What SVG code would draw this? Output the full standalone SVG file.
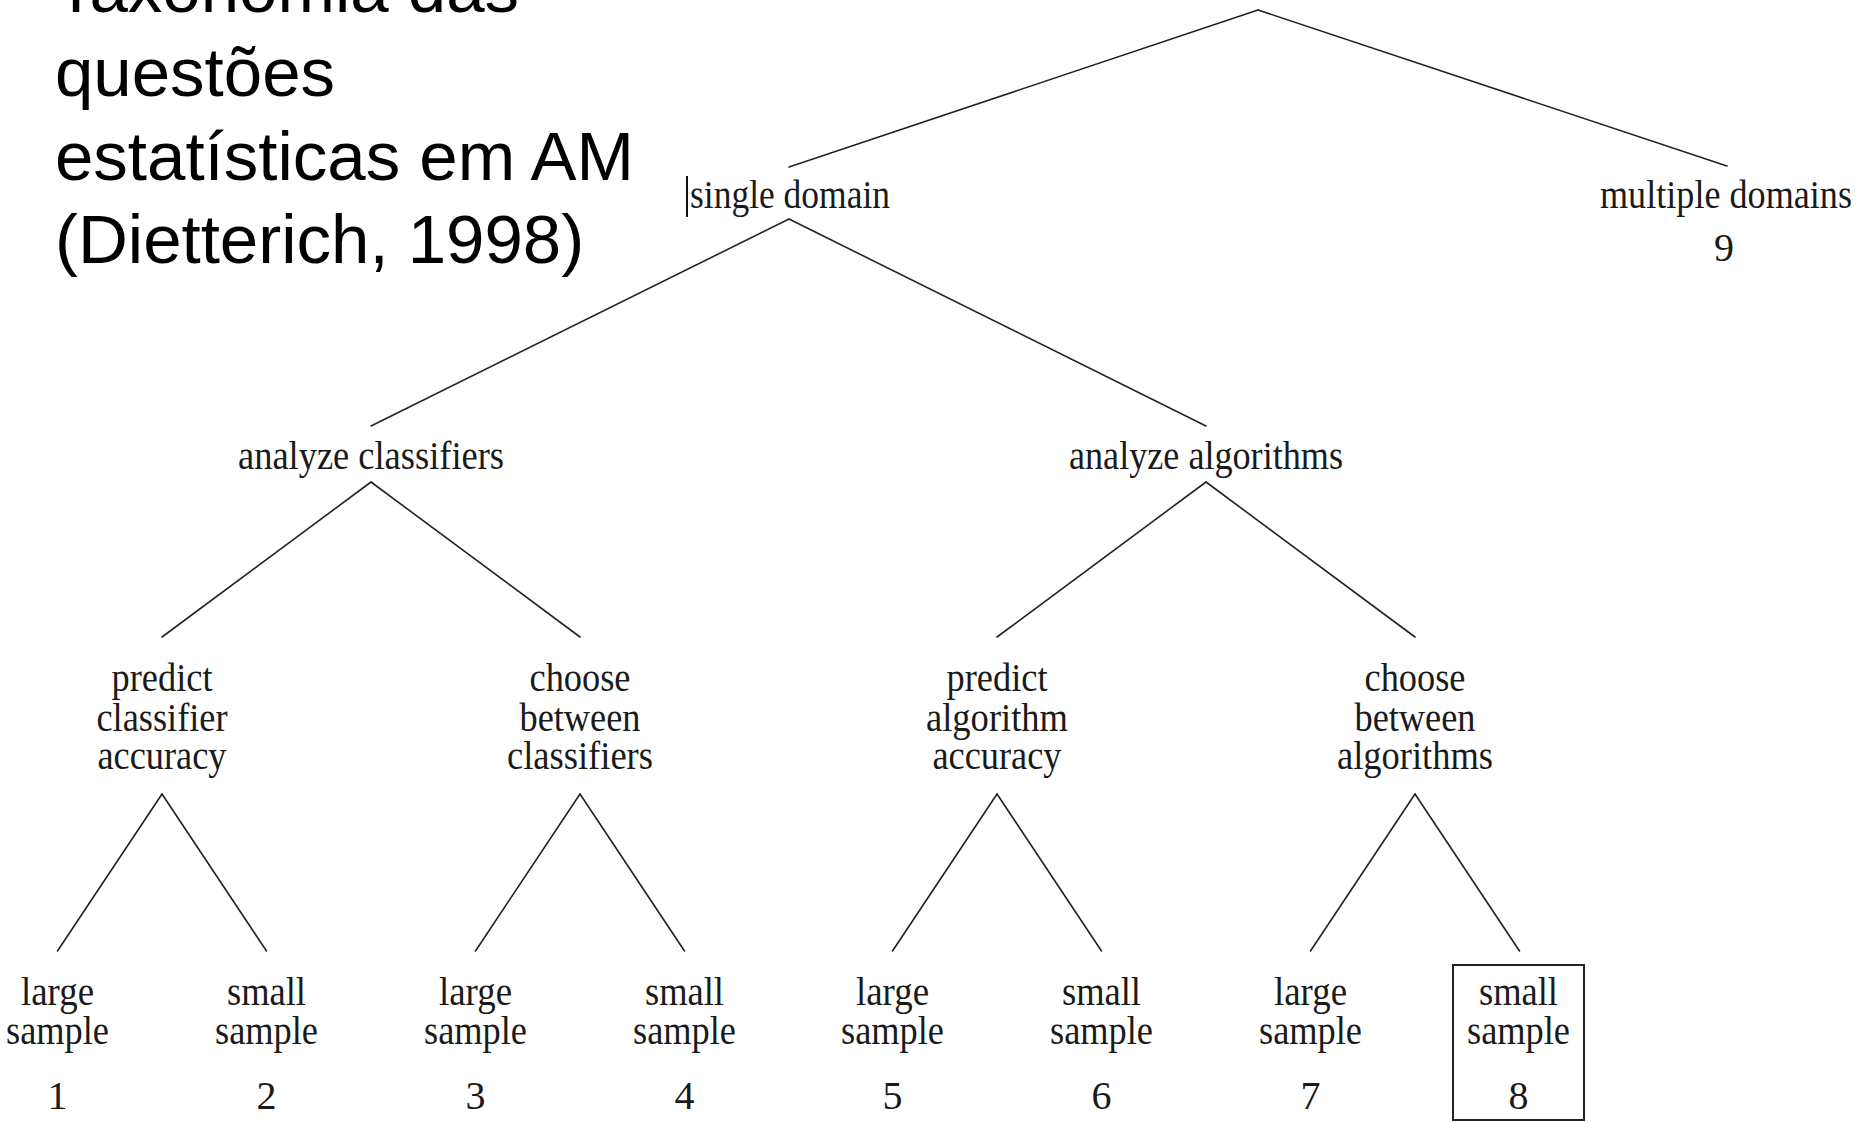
<svg xmlns="http://www.w3.org/2000/svg" width="1872" height="1122" viewBox="0 0 1872 1122">
<style>
.bg{fill:#ffffff}
.title{font-family:"Liberation Sans",Arial,sans-serif;font-size:69px;fill:#000000}
.lbl{font-family:"Liberation Serif","Times New Roman",serif;font-size:40px;fill:#1a1a1a;text-anchor:middle}
.num{font-family:"Liberation Serif","Times New Roman",serif;font-size:40px;fill:#1a1a1a;text-anchor:middle}
.edge{stroke:#222222;stroke-width:1.6;fill:none;stroke-linecap:round}
.box{stroke:#222222;stroke-width:2;fill:none}
</style>
<rect class="bg" x="0" y="0" width="1872" height="1122"/>
<g id="title">
<text class="title" x="55" y="12">Taxonomia das</text>
<text class="title" x="55" y="96">questões</text>
<text class="title" x="55" y="180">estatísticas em AM</text>
<text class="title" x="55" y="263">(Dietterich, 1998)</text>
</g>
<g id="connectors">
<line class="edge" x1="1258" y1="10" x2="789" y2="167"/>
<line class="edge" x1="1258" y1="10" x2="1727" y2="166"/>
<line class="edge" x1="789" y1="219" x2="371" y2="426"/>
<line class="edge" x1="789" y1="219" x2="1206" y2="426"/>
<line class="edge" x1="371" y1="482" x2="162" y2="637"/>
<line class="edge" x1="371" y1="482" x2="580" y2="637"/>
<line class="edge" x1="1206" y1="482" x2="997" y2="637"/>
<line class="edge" x1="1206" y1="482" x2="1415" y2="637"/>
<line class="edge" x1="162" y1="794" x2="57.5" y2="951"/>
<line class="edge" x1="162" y1="794" x2="266.5" y2="951"/>
<line class="edge" x1="580" y1="794" x2="475.5" y2="951"/>
<line class="edge" x1="580" y1="794" x2="684.5" y2="951"/>
<line class="edge" x1="997" y1="794" x2="892.5" y2="951"/>
<line class="edge" x1="997" y1="794" x2="1101.5" y2="951"/>
<line class="edge" x1="1415" y1="794" x2="1310.5" y2="951"/>
<line class="edge" x1="1415" y1="794" x2="1519.5" y2="951"/>
</g>
<g id="single-domain">
<text class="lbl" x="790" y="208" textLength="200" lengthAdjust="spacingAndGlyphs">single domain</text>
<line x1="687" y1="176" x2="687" y2="217" stroke="#111111" stroke-width="2"/>
</g>
<g id="multiple-domains">
<text class="lbl" x="1726" y="208" textLength="252" lengthAdjust="spacingAndGlyphs">multiple domains</text>
<text class="num" x="1724" y="261">9</text>
</g>
<g id="analyze-classifiers">
<text class="lbl" x="371" y="469" textLength="266" lengthAdjust="spacingAndGlyphs">analyze classifiers</text>
</g>
<g id="analyze-algorithms">
<text class="lbl" x="1206" y="469" textLength="274" lengthAdjust="spacingAndGlyphs">analyze algorithms</text>
</g>
<g id="predict-classifier-accuracy">
<text class="lbl" x="162" y="691" textLength="101" lengthAdjust="spacingAndGlyphs">predict</text>
<text class="lbl" x="162" y="731" textLength="131" lengthAdjust="spacingAndGlyphs">classifier</text>
<text class="lbl" x="162" y="769" textLength="129" lengthAdjust="spacingAndGlyphs">accuracy</text>
</g>
<g id="choose-between-classifiers">
<text class="lbl" x="580" y="691" textLength="101" lengthAdjust="spacingAndGlyphs">choose</text>
<text class="lbl" x="580" y="731" textLength="121" lengthAdjust="spacingAndGlyphs">between</text>
<text class="lbl" x="580" y="769" textLength="146" lengthAdjust="spacingAndGlyphs">classifiers</text>
</g>
<g id="predict-algorithm-accuracy">
<text class="lbl" x="997" y="691" textLength="101" lengthAdjust="spacingAndGlyphs">predict</text>
<text class="lbl" x="997" y="731" textLength="142" lengthAdjust="spacingAndGlyphs">algorithm</text>
<text class="lbl" x="997" y="769" textLength="129" lengthAdjust="spacingAndGlyphs">accuracy</text>
</g>
<g id="choose-between-algorithms">
<text class="lbl" x="1415" y="691" textLength="101" lengthAdjust="spacingAndGlyphs">choose</text>
<text class="lbl" x="1415" y="731" textLength="121" lengthAdjust="spacingAndGlyphs">between</text>
<text class="lbl" x="1415" y="769" textLength="156" lengthAdjust="spacingAndGlyphs">algorithms</text>
</g>
<g id="leaf-1">
<text class="lbl" x="57.5" y="1005" textLength="73" lengthAdjust="spacingAndGlyphs">large</text>
<text class="lbl" x="57.5" y="1044" textLength="103" lengthAdjust="spacingAndGlyphs">sample</text>
<text class="num" x="57.5" y="1109">1</text>
</g>
<g id="leaf-2">
<text class="lbl" x="266.5" y="1005" textLength="79" lengthAdjust="spacingAndGlyphs">small</text>
<text class="lbl" x="266.5" y="1044" textLength="103" lengthAdjust="spacingAndGlyphs">sample</text>
<text class="num" x="266.5" y="1109">2</text>
</g>
<g id="leaf-3">
<text class="lbl" x="475.5" y="1005" textLength="73" lengthAdjust="spacingAndGlyphs">large</text>
<text class="lbl" x="475.5" y="1044" textLength="103" lengthAdjust="spacingAndGlyphs">sample</text>
<text class="num" x="475.5" y="1109">3</text>
</g>
<g id="leaf-4">
<text class="lbl" x="684.5" y="1005" textLength="79" lengthAdjust="spacingAndGlyphs">small</text>
<text class="lbl" x="684.5" y="1044" textLength="103" lengthAdjust="spacingAndGlyphs">sample</text>
<text class="num" x="684.5" y="1109">4</text>
</g>
<g id="leaf-5">
<text class="lbl" x="892.5" y="1005" textLength="73" lengthAdjust="spacingAndGlyphs">large</text>
<text class="lbl" x="892.5" y="1044" textLength="103" lengthAdjust="spacingAndGlyphs">sample</text>
<text class="num" x="892.5" y="1109">5</text>
</g>
<g id="leaf-6">
<text class="lbl" x="1101.5" y="1005" textLength="79" lengthAdjust="spacingAndGlyphs">small</text>
<text class="lbl" x="1101.5" y="1044" textLength="103" lengthAdjust="spacingAndGlyphs">sample</text>
<text class="num" x="1101.5" y="1109">6</text>
</g>
<g id="leaf-7">
<text class="lbl" x="1310.5" y="1005" textLength="73" lengthAdjust="spacingAndGlyphs">large</text>
<text class="lbl" x="1310.5" y="1044" textLength="103" lengthAdjust="spacingAndGlyphs">sample</text>
<text class="num" x="1310.5" y="1109">7</text>
</g>
<g id="leaf-8">
<rect class="box" x="1453" y="965" width="131" height="155"/>
<text class="lbl" x="1518.5" y="1005" textLength="79" lengthAdjust="spacingAndGlyphs">small</text>
<text class="lbl" x="1518.5" y="1044" textLength="103" lengthAdjust="spacingAndGlyphs">sample</text>
<text class="num" x="1518.5" y="1109">8</text>
</g>
</svg>
